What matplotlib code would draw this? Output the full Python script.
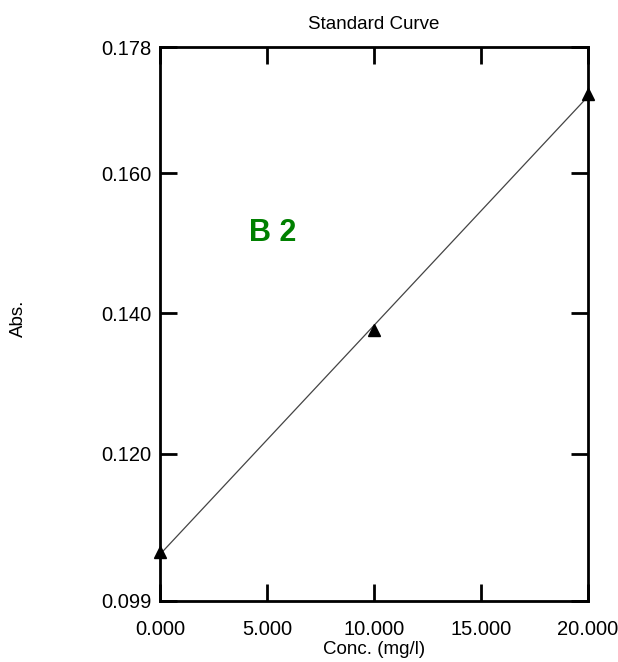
import numpy as np
import matplotlib.pyplot as plt

plt.rcParams['font.family'] = ['Liberation Sans', 'DejaVu Sans']

conc = [0.0, 10.0, 20.0]
absorb = [0.1060, 0.1376, 0.1713]
xticks = [0.0, 5.0, 10.0, 15.0, 20.0]
yticks = [0.099, 0.120, 0.140, 0.160, 0.178]

fig = plt.figure(figsize=(6.18, 6.62), dpi=100)
ax = fig.add_axes([160 / 618, 1 - 601 / 662, 428 / 618, 554 / 662])

# fitted line
slope, inter = np.polyfit(conc, absorb, 1)
xs = np.array([0.0, 20.0])
ax.plot(xs, slope * xs + inter, color='#444444', lw=0.9, zorder=2)
ax.plot(conc, absorb, '^', color='black', ms=9, clip_on=False, zorder=3)

ax.set_xlim(0, 20)
ax.set_ylim(0.099, 0.178)
ax.set_xticks(xticks)
ax.set_xticklabels(['%.3f' % v for v in xticks])
ax.tick_params(direction='in', length=12, width=2, top=True, right=True,
               labelsize=14.5)
ax.set_yticks(yticks)
ax.set_yticklabels(['%.3f' % v for v in yticks])
ax.tick_params(axis='x', pad=14)
ax.tick_params(axis='y', pad=6)
for s in ax.spines.values():
    s.set_linewidth(2)

ax.set_title('Standard Curve', fontsize=13.5, pad=13)
ax.set_xlabel('Conc. (mg/l)', fontsize=13.5, labelpad=1)
fig.text(18 / 618, 1 - 318 / 662, 'Abs.', rotation=90, fontsize=13.5,
         ha='center', va='center')
ax.text(5.25, 0.1515, 'B 2', color='#008000', fontsize=22, fontweight='bold',
        ha='center', va='center')

fig.savefig('out.png', dpi=100)
